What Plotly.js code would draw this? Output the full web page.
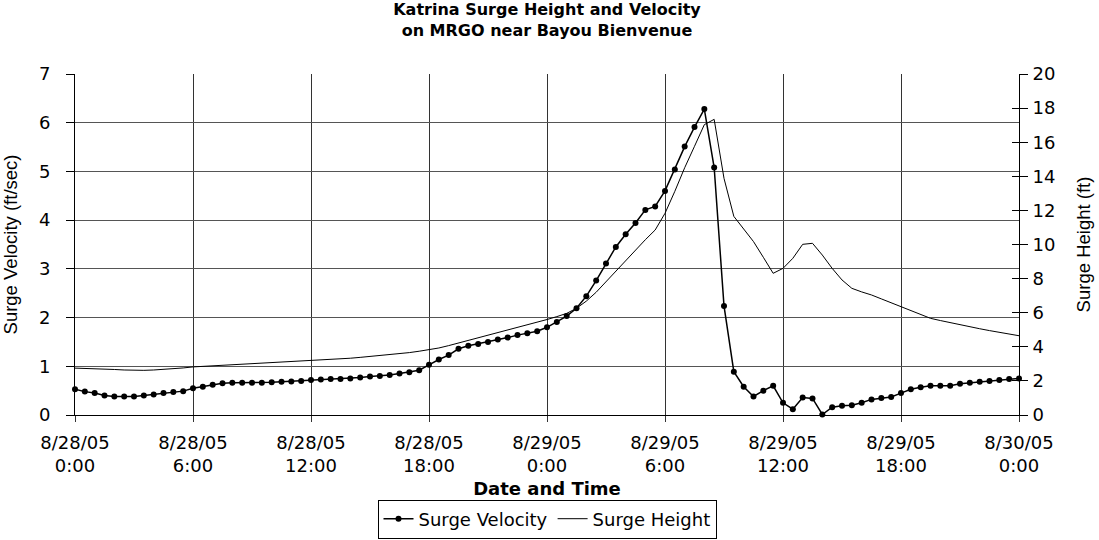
<!DOCTYPE html>
<html>
<head>
<meta charset="utf-8">
<script src="https://cdn.plot.ly/plotly-3.0.1.min.js"></script>
<style>
html,body{margin:0;padding:0;background:#fff;}
#chart{width:1099px;height:540px;}
</style>
</head>
<body>
<div id="chart"></div>
<script>
// Hours since 8/28/05 0:00, half-hour readings
var hours = [
  0,0.5,1,1.5,2,2.5,3,3.5,4,4.5,5,5.5,
  6,6.5,7,7.5,8,8.5,9,9.5,10,10.5,11,11.5,
  12,12.5,13,13.5,14,14.5,15,15.5,16,16.5,17,17.5,
  18,18.5,19,19.5,20,20.5,21,21.5,22,22.5,23,23.5,
  24,24.5,25,25.5,26,26.5,27,27.5,28,28.5,29,29.5,
  30,30.5,31,31.5,32,32.5,33,33.5,34,34.5,35,35.5,
  36,36.5,37,37.5,38,38.5,39,39.5,40,40.5,41,41.5,
  42,42.5,43,43.5,44,44.5,45,45.5,46,46.5,47,47.5,
  48
];

// Surge velocity (ft/sec)
var surgeVelocity = [
  0.53,0.48,0.45,0.40,0.38,0.38,0.38,0.40,0.42,0.45,0.47,0.49,
  0.55,0.58,0.62,0.65,0.66,0.66,0.66,0.66,0.67,0.68,0.69,0.70,
  0.72,0.73,0.74,0.74,0.75,0.77,0.79,0.80,0.82,0.85,0.88,0.92,
  1.03,1.14,1.23,1.36,1.42,1.46,1.50,1.55,1.59,1.64,1.68,1.72,
  1.80,1.91,2.03,2.19,2.44,2.76,3.11,3.45,3.71,3.94,4.21,4.28,
  4.60,5.04,5.51,5.91,6.28,5.08,2.24,0.89,0.58,0.38,0.50,0.60,
  0.25,0.12,0.36,0.34,0.01,0.16,0.19,0.20,0.25,0.32,0.35,0.37,
  0.45,0.53,0.57,0.60,0.60,0.60,0.64,0.66,0.68,0.70,0.72,0.74,
  0.75
];

// Surge height (ft)
var surgeHeight = [
  2.75,2.74,2.72,2.70,2.67,2.64,2.62,2.62,2.64,2.67,2.71,2.76,
  2.82,2.85,2.88,2.91,2.94,2.97,3.00,3.03,3.06,3.09,3.11,3.14,
  3.17,3.21,3.25,3.29,3.33,3.38,3.43,3.48,3.54,3.60,3.66,3.74,
  3.83,3.93,4.07,4.22,4.37,4.52,4.67,4.82,4.97,5.12,5.27,5.43,
  5.60,5.77,5.96,6.26,6.68,7.20,7.82,8.46,9.09,9.72,10.28,10.85,
  11.83,13.12,14.50,15.76,17.03,17.34,13.88,11.65,10.90,10.17,9.25,8.31,
  8.60,9.19,10.01,10.07,9.38,8.60,7.92,7.43,7.22,7.04,6.81,6.58,
  6.35,6.12,5.89,5.67,5.54,5.41,5.28,5.17,5.06,4.95,4.85,4.75,
  4.65
];

var tickHours = [0,6,12,18,24,30,36,42,48];
var tickLabels = [
  "8/28/05<br>0:00","8/28/05<br>6:00","8/28/05<br>12:00","8/28/05<br>18:00",
  "8/29/05<br>0:00","8/29/05<br>6:00","8/29/05<br>12:00","8/29/05<br>18:00",
  "8/30/05<br>0:00"
];

var tickFont = {family:"DejaVu Sans, sans-serif", size:18, color:"#000"};
var axTitleFont = {family:"Liberation Sans, Arial, sans-serif", size:18.5, color:"#000"};

var traces = [
  {
    x: hours, y: surgeVelocity, name: "Surge Velocity",
    type: "scatter", mode: "lines+markers",
    line: {color:"#000", width:1.5},
    marker: {color:"#000", size:6},
    cliponaxis: false, yaxis: "y"
  },
  {
    x: hours, y: surgeHeight, name: "Surge Height",
    type: "scatter", mode: "lines",
    line: {color:"#000", width:1},
    yaxis: "y2"
  },
  {x:[0], y:[0], yaxis:"y3", type:"scatter", mode:"markers", marker:{opacity:0}, showlegend:false, hoverinfo:"skip"}
];

var layout = {
  width: 1099, height: 540,
  paper_bgcolor: "#fff", plot_bgcolor: "#fff",
  margin: {l:75, r:80, t:74, b:125, pad:0},
  showlegend: true,
  title: {
    text: "<b>Katrina Surge Height and Velocity<br>on MRGO near Bayou Bienvenue</b>",
    font: {family:"DejaVu Sans, sans-serif", size:16, color:"#000"},
    x: 0.5, xanchor: "center", xref: "paper",
    y: 0.972, yanchor: "top", yref: "container"
  },
  xaxis: {
    range: [0,48], tickmode: "array", tickvals: tickHours, ticktext: tickLabels,
    showgrid: true, gridcolor: "#333", gridwidth: 1,
    ticks: "outside", ticklen: 6, tickcolor: "#333",
    ticklabelstandoff: 5,
    showline: true, linecolor: "#000", linewidth: 1, zeroline: false,
    automargin: false,
    tickfont: tickFont,
    title: {text: "<b>Date and Time</b>", font: {family:"DejaVu Sans, sans-serif", size:18, color:"#000"}, standoff: 9}
  },
  yaxis: {
    range: [0,7], dtick: 1, tick0: 0,
    showgrid: true, gridcolor: "#555", gridwidth: 1,
    ticks: "outside", ticklen: 8, tickcolor: "#000",
    ticklabelstandoff: 12,
    showline: true, linecolor: "#000", linewidth: 1, zeroline: false,
    automargin: false,
    tickfont: tickFont,
    title: {text: "Surge Velocity (ft/sec)", font: axTitleFont, standoff: 26}
  },
  yaxis2: {
    range: [0,20], dtick: 2, tick0: 0, overlaying: "y", side: "right", anchor: "x",
    showgrid: false, ticks: "outside", ticklen: 8, tickcolor: "#000",
    ticklabelstandoff: 1,
    showline: true, linecolor: "#000", linewidth: 1, zeroline: false,
    automargin: false,
    tickfont: tickFont,
    title: {text: "Surge Height (ft)", font: axTitleFont, standoff: 22}
  },
  yaxis3: {
    range: [0,20], dtick: 2, tick0: 0, overlaying: "y", side: "right", anchor: "x",
    showgrid: false, ticks: "inside", ticklen: 7, tickcolor: "#000",
    showline: false, zeroline: false, showticklabels: false, automargin: false
  },
  legend: {
    orientation: "h", x: 0.5, xanchor: "center", xref: "paper",
    y: 0.075, yanchor: "top", yref: "container",
    bordercolor: "#000", borderwidth: 1, bgcolor: "#fff",
    font: {family:"DejaVu Sans, sans-serif", size:18, color:"#000"},
    itemsizing: "trace"
  }
};

Plotly.newPlot("chart", traces, layout, {displayModeBar:false, staticPlot:true});
</script>
</body>
</html>
